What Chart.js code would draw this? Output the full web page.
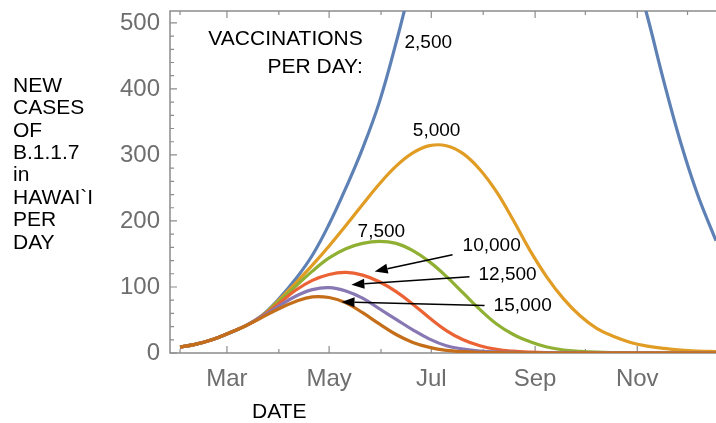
<!DOCTYPE html>
<html>
<head>
<meta charset="utf-8">
<script src="https://cdn.jsdelivr.net/npm/chart.js@4"></script>
<style>
  body { margin: 0; background: #fff; }
  #wrap { width: 716px; height: 423px; }
</style>
</head>
<body>
<div id="wrap"><canvas id="chart" width="716" height="423"></canvas></div>
<script>
// day of year (2021) for each sample
const days = [31, 40, 50, 60, 70, 80, 90, 100, 110, 120, 130, 140, 150, 160, 170, 180, 190,
  200, 210, 220, 230, 240, 250, 260, 270, 280, 290, 300, 310, 320, 330, 340, 351];

// new cases per day, by vaccinations per day
const vac2500 = [9, 13, 20, 30, 41, 57, 82, 112, 148, 195, 250, 310, 380, 470, 570, 670, 760,
  840, 900, 940, 960, 955, 930, 885, 825, 750, 670, 600, 510, 410, 318, 240, 170];
const vac5000 = [9, 13, 20, 30, 41, 56, 80, 106, 133, 162, 193, 225, 256, 283, 303, 314, 314,
  302, 278, 244, 201, 155, 115, 82, 56, 37, 25, 16, 10.5, 7, 4.5, 3, 2];
const vac7500 = [9, 13, 20, 30, 41, 56, 78, 101, 124, 144, 158, 166, 169, 166, 155, 138, 116,
  91, 66, 44, 28, 17, 9, 4.5, 2.5, 1.3, 0.7, 0.4, 0.2, 0.1, 0.1, 0, 0];
const vac10000 = [9, 13, 20, 30, 41, 56, 75, 95, 110, 119, 122, 118, 108, 93, 74, 53, 34,
  20, 11, 5.5, 2.7, 1.3, 0.6, 0.3, 0.1, 0, 0, 0, 0, 0, 0, 0, 0];
const vac12500 = [9, 13, 20, 30, 41, 55, 71, 86, 96, 99, 94, 83, 67, 51, 35, 21, 11,
  6, 3, 1.5, 0.8, 0.4, 0.2, 0.1, 0, 0, 0, 0, 0, 0, 0, 0, 0];
const vac15000 = [9, 13, 20, 30, 41, 54, 67, 78, 85, 84, 76, 61, 44, 28, 16, 8.5, 4,
  2, 1, 0.5, 0.3, 0.15, 0, 0, 0, 0, 0, 0, 0, 0, 0, 0, 0];

const seriesNames = ["2,500", "5,000", "7,500", "10,000", "12,500", "15,000"];
const seriesValues = [vac2500, vac5000, vac7500, vac10000, vac12500, vac15000];
const seriesColors = ["#5e81b5", "#e19c24", "#8fb032", "#eb6235", "#8778b3", "#c56e1a"];

const monthDays = [31, 59, 90, 120, 151, 181, 212, 243, 273, 304, 334];
const monthNames = ["Feb", "Mar", "Apr", "May", "Jun", "Jul", "Aug", "Sep", "Oct", "Nov", "Dec"];
const labeledMonths = ["Mar", "May", "Jul", "Sep", "Nov"];
const yTickValues = [0, 100, 200, 300, 400, 500];

// curve labels (left edge / baseline, in data units)
const noteX = [165, 170, 137, 199.7, 209.2, 218.2];
const noteY = [462, 329, 176, 155, 111, 64];
// arrows from label to curve (data units)
const arrowFrom = [[193.7, 148.8], [203.8, 115.5], [212.8, 72]];
const arrowTo = [[147.2, 123.5], [133.3, 103.4], [127.4, 77.4]];

const yTitleLines = ["NEW", "CASES", "OF", "B.1.1.7", "in", "HAWAI`I", "PER", "DAY"];

const FONT = "'Liberation Sans', Arial, Helvetica, sans-serif";
const TICK_GRAY = "#6e6e6e";
const FRAME_GRAY = "#8c8c8c";

function arrow(ctx, x1, y1, x2, y2) {
  const ang = Math.atan2(y2 - y1, x2 - x1);
  const len = 13, half = 5;
  const bx = x2 - len * Math.cos(ang), by = y2 - len * Math.sin(ang);
  ctx.beginPath();
  ctx.moveTo(x1, y1);
  ctx.lineTo(bx, by);
  ctx.stroke();
  ctx.beginPath();
  ctx.moveTo(x2, y2);
  ctx.lineTo(bx + half * Math.sin(ang), by - half * Math.cos(ang));
  ctx.lineTo(bx - half * Math.sin(ang), by + half * Math.cos(ang));
  ctx.closePath();
  ctx.fill();
}

function noPad(s) {
  s.paddingTop = 0;
  s.paddingBottom = 0;
  s.paddingLeft = 0;
  s.paddingRight = 0;
}

const framePlugin = {
  id: "frame",
  beforeDatasetsDraw(chart) {
    const { ctx, chartArea: a, scales: { x, y } } = chart;
    ctx.save();
    ctx.strokeStyle = FRAME_GRAY;
    ctx.lineWidth = 1.5;
    ctx.beginPath();
    ctx.moveTo(a.right + 2, a.top);
    ctx.lineTo(a.left, a.top);
    ctx.lineTo(a.left, a.bottom);
    ctx.lineTo(a.right + 2, a.bottom);
    ctx.stroke();

    ctx.lineWidth = 1.2;
    ctx.beginPath();
    monthDays.forEach((d, i) => {
      const px = x.getPixelForValue(d);
      const len = labeledMonths.includes(monthNames[i]) ? 7 : 4;
      ctx.moveTo(px, a.bottom);
      ctx.lineTo(px, a.bottom - len);
      ctx.moveTo(px, a.top);
      ctx.lineTo(px, a.top + len);
    });
    for (let v = 0; v <= 500; v += 20) {
      const py = y.getPixelForValue(v);
      const len = v % 100 === 0 ? 7 : 4;
      ctx.moveTo(a.left, py);
      ctx.lineTo(a.left + len, py);
    }
    ctx.stroke();
    ctx.restore();
  },
  afterDatasetsDraw(chart) {
    const { ctx, scales: { x, y } } = chart;
    ctx.save();
    ctx.fillStyle = "#000";
    ctx.textBaseline = "alphabetic";

    ctx.font = "21px " + FONT;
    ctx.textAlign = "right";
    ctx.fillText("VACCINATIONS", x.getPixelForValue(140.1), y.getPixelForValue(466.7));
    ctx.fillText("PER DAY:", x.getPixelForValue(140.1), y.getPixelForValue(424.3));

    ctx.font = "19px " + FONT;
    ctx.textAlign = "left";
    seriesNames.forEach((name, i) => {
      ctx.fillText(name, x.getPixelForValue(noteX[i]), y.getPixelForValue(noteY[i]));
    });

    ctx.strokeStyle = "#000";
    ctx.lineWidth = 1.5;
    arrowFrom.forEach((f, i) => {
      const t = arrowTo[i];
      arrow(ctx, x.getPixelForValue(f[0]), y.getPixelForValue(f[1]),
        x.getPixelForValue(t[0]), y.getPixelForValue(t[1]));
    });
    ctx.restore();
  },
  afterDraw(chart) {
    const ctx = chart.ctx;
    ctx.save();
    ctx.fillStyle = "#000";
    ctx.font = "21px " + FONT;
    ctx.textAlign = "left";
    ctx.textBaseline = "alphabetic";
    yTitleLines.forEach((line, i) => {
      ctx.fillText(line, 13, 91.7 + i * 22.4);
    });
    ctx.fillText("DATE", 252, 418);
    ctx.restore();
  }
};

new Chart(document.getElementById("chart"), {
  type: "line",
  data: {
    datasets: seriesValues.map((vals, i) => ({
      label: seriesNames[i],
      data: days.map((d, j) => ({ x: d, y: vals[j] })),
      borderColor: seriesColors[i],
      borderWidth: 3.2,
      pointRadius: 0,
      tension: 0.4,
      fill: false,
      order: seriesValues.length - i
    }))
  },
  options: {
    responsive: false,
    animation: false,
    devicePixelRatio: 1,
    layout: { padding: { top: 11, right: 0, left: 0, bottom: 0 } },
    plugins: { legend: { display: false }, tooltip: { enabled: false } },
    scales: {
      x: {
        type: "linear",
        min: 25,
        max: 351,
        afterBuildTicks: s => { s.ticks = monthDays.map(v => ({ value: v })); },
        afterFit: s => { s.height = 70; noPad(s); },
        grid: { display: false, drawTicks: false },
        border: { display: false },
        ticks: {
          autoSkip: false,
          maxRotation: 0,
          padding: 12,
          color: TICK_GRAY,
          font: { family: FONT, size: 24 },
          callback: v => {
            const name = monthNames[monthDays.indexOf(v)];
            return labeledMonths.includes(name) ? name : "";
          }
        }
      },
      y: {
        min: 0,
        max: 518,
        afterBuildTicks: s => { s.ticks = yTickValues.map(v => ({ value: v })); },
        afterFit: s => { s.width = 170; noPad(s); },
        grid: { display: false, drawTicks: false },
        border: { display: false },
        ticks: {
          padding: 10,
          color: TICK_GRAY,
          font: { family: FONT, size: 24 }
        }
      }
    }
  },
  plugins: [framePlugin]
});
</script>
</body>
</html>
